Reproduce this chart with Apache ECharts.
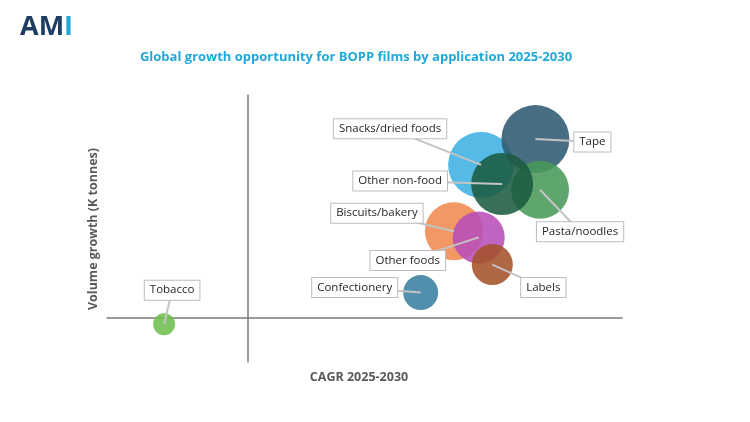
<!doctype html>
<html lang="en">
<head>
    <meta charset="UTF-8">
    <title>BOPP films growth opportunity</title>
    <script src="https://cdn.jsdelivr.net/npm/echarts@6/dist/echarts.min.js"></script>
    <style>
        html, body { margin: 0; padding: 0; background: #fff; }
        #chart { width: 750px; height: 422px; }
    </style>
</head>
<body>
<div id="chart"></div>
<script type="text/javascript">
    // data (axes have no ticks, units are estimated)
    var categories   = ['Tobacco', 'Confectionery', 'Biscuits/bakery', 'Other foods', 'Labels',
                        'Snacks/dried foods', 'Tape', 'Pasta/noodles', 'Other non-food'];
    var cagr         = [-1.78, 3.70, 4.41, 4.94, 5.23, 4.99, 6.15, 6.25, 5.44];   // CAGR 2025-2030 (%)
    var volumeGrowth = [-15, 56, 194, 180, 119, 343, 401, 287, 300];             // K tonnes
    var bubbleSize   = [121, 306, 841, 676, 420, 1089, 1156, 841, 961];          // bubble area value

    // styling
    var colors = ['#6cbf4c', '#3a7fa1', '#f08a4e', '#b84db8', '#a4522a',
                  '#3fb0e2', '#2f5a72', '#489a5a', '#1b5b41'];
    // label box centre, relative to bubble centre (px)
    var labelOffsets = [[8, -34], [-66, -5], [-77, -18], [-71, 23], [51, 23],
                        [-91, -36], [57, 3], [40, 42], [-102, -3]];

    var points = [];
    for (var i = 0; i < categories.length; i++) {
        points.push({
            name: categories[i],
            value: [cagr[i], volumeGrowth[i], bubbleSize[i]],
            itemStyle: {color: colors[i]}
        });
    }

    var myChart = echarts.init(document.getElementById('chart'));

    myChart.setOption({
        animation: false,
        backgroundColor: '#fff',
        grid: {left: 107, right: 128, top: 95, bottom: 60},
        xAxis: {
            type: 'value',
            min: -3,
            max: 8,
            axisLine: {show: true, onZero: true, lineStyle: {color: '#7a7a7a', width: 1.5}},
            axisTick: {show: false},
            axisLabel: {show: false},
            splitLine: {show: false}
        },
        yAxis: {
            type: 'value',
            min: -100,
            max: 500,
            axisLine: {show: true, onZero: true, lineStyle: {color: '#7a7a7a', width: 1.5}},
            axisTick: {show: false},
            axisLabel: {show: false},
            splitLine: {show: false}
        },
        graphic: [
            {
                type: 'text', left: 20, top: 14,
                style: {
                    text: '{a|AM}{b|I}',
                    rich: {
                        a: {fill: '#1f3d62', fontSize: 27, fontWeight: 'bold', fontFamily: 'Open Sans'},
                        b: {fill: '#1ea8d8', fontSize: 27, fontWeight: 'bold', fontFamily: 'Open Sans'}
                    }
                }
            },
            {
                type: 'text', x: 356, y: 57,
                style: {
                    text: 'Global growth opportunity for BOPP films by application 2025-2030',
                    fill: '#1ea9d9', fontSize: 13, fontWeight: 'bold', fontFamily: 'Open Sans',
                    align: 'center', verticalAlign: 'middle'
                }
            },
            {
                type: 'text', x: 359, y: 377,
                style: {
                    text: 'CAGR 2025-2030',
                    fill: '#595959', fontSize: 12.5, fontWeight: 'bold', fontFamily: 'Open Sans',
                    align: 'center', verticalAlign: 'middle'
                }
            },
            {
                type: 'text', x: 93, y: 229, rotation: Math.PI / 2,
                style: {
                    text: 'Volume growth (K tonnes)',
                    fill: '#595959', fontSize: 12.5, fontWeight: 'bold', fontFamily: 'Open Sans',
                    align: 'center', verticalAlign: 'middle'
                }
            }
        ],
        series: [
            {
                name: 'bubbles',
                type: 'scatter',
                data: points,
                symbolSize: function (val) {
                    return 2 * Math.sqrt(val[2]);
                },
                itemStyle: {opacity: 0.88},
                z: 2
            },
            {
                name: 'labels',
                type: 'custom',
                data: points,
                z: 5,
                silent: true,
                renderItem: function (params, api) {
                    var c = api.coord([api.value(0), api.value(1)]);
                    var off = labelOffsets[params.dataIndex];
                    var bx = c[0] + off[0];
                    var by = c[1] + off[1];
                    return {
                        type: 'group',
                        children: [
                            {
                                type: 'line',
                                shape: {x1: bx, y1: by, x2: c[0], y2: c[1]},
                                style: {stroke: '#c4c4c4', lineWidth: 2}
                            },
                            {
                                type: 'text',
                                style: {
                                    x: bx, y: by,
                                    text: categories[params.dataIndex],
                                    align: 'center', verticalAlign: 'middle',
                                    fill: '#262626', fontSize: 11.5, fontFamily: 'Open Sans',
                                    backgroundColor: '#fff',
                                    borderColor: '#bdbdbd', borderWidth: 1,
                                    padding: [4, 5, 3, 5]
                                }
                            }
                        ]
                    };
                }
            }
        ]
    });

    window.onresize = function () {
        myChart.resize();
    };
</script>
</body>
</html>
